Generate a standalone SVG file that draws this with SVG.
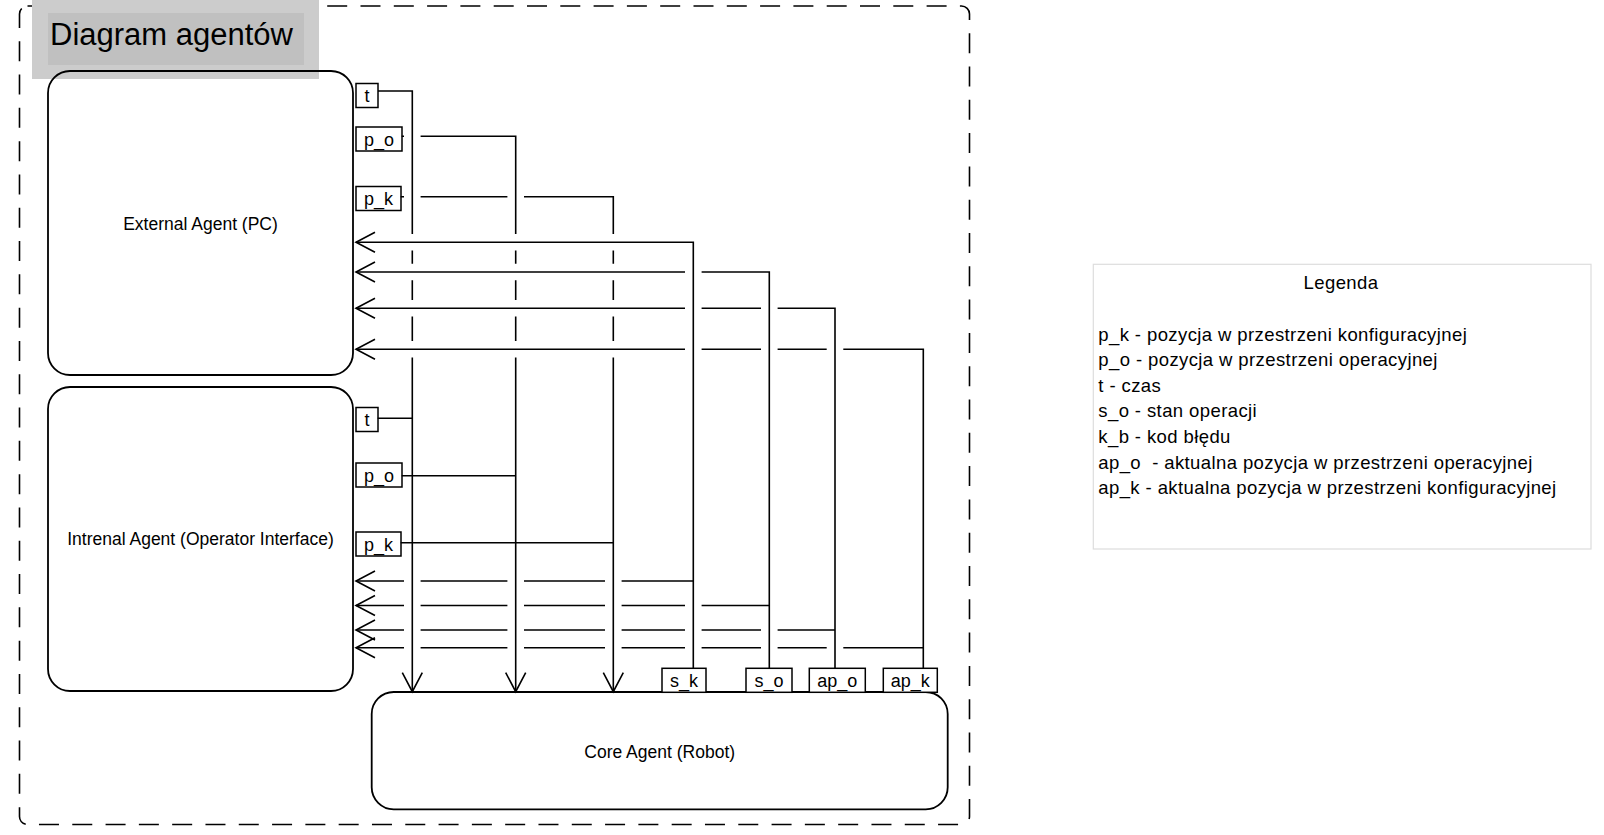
<svg xmlns="http://www.w3.org/2000/svg" width="1604" height="835" viewBox="0 0 1604 835">
<style>
text{font-family:"Liberation Sans",Arial,sans-serif;fill:#000}
.agent{fill:none;stroke:#000;stroke-width:1.8}
.port{fill:#fff;stroke:#000;stroke-width:1.5}
.pl{font-size:18px;text-anchor:middle}
.an{font-size:17.5px;text-anchor:middle}
.c{fill:none;stroke:#000;stroke-width:1.6}
.lg{font-size:18.5px;letter-spacing:0.4px}
</style>
<defs>
<marker id="arr" markerUnits="userSpaceOnUse" viewBox="-21 -11 22 22" markerWidth="22" markerHeight="22" refX="0" refY="0" orient="auto" overflow="visible">
<path d="M -19 -10 L 0 0 L -19 10" fill="none" stroke="#000" stroke-width="1.6"/>
</marker>
</defs>
<rect width="1604" height="835" fill="#fff"/>
<g id="frame">
<rect x="19.5" y="6" width="950" height="818.5" rx="8" fill="none" stroke="#000" stroke-width="1.6" stroke-dasharray="20 13.3"/>
</g>
<g id="title">
<rect x="32" y="0" width="287" height="79" fill="#cccccc"/>
<rect x="48" y="13" width="256" height="52" fill="#c0c0c0"/>
<text x="50" y="45" style="font-size:31px">Diagram agentów</text>
</g>
<g id="external-agent">
<rect class="agent" x="48" y="71" width="305" height="304" rx="22"/>
<text class="an" x="200.5" y="230">External Agent (PC)</text>
<rect class="port" x="356" y="83.5" width="22" height="24"/>
<text class="pl" x="367" y="102">t</text>
<rect class="port" x="356" y="127" width="46" height="24"/>
<text class="pl" x="379" y="145.5">p_o</text>
<rect class="port" x="356" y="186.5" width="45" height="24"/>
<text class="pl" x="378.5" y="205">p_k</text>
</g>
<g id="internal-agent">
<rect class="agent" x="48" y="387" width="305" height="304" rx="22"/>
<text class="an" x="200.5" y="545">Intrenal Agent (Operator Interface)</text>
<rect class="port" x="356" y="407.5" width="22" height="24"/>
<text class="pl" x="367" y="426">t</text>
<rect class="port" x="356" y="463" width="46" height="24"/>
<text class="pl" x="379" y="481.5">p_o</text>
<rect class="port" x="356" y="532" width="45" height="24"/>
<text class="pl" x="378.5" y="550.5">p_k</text>
</g>
<g id="core-agent">
<rect class="agent" x="371.7" y="692" width="576" height="117.3" rx="22"/>
<text class="an" x="659.7" y="758">Core Agent (Robot)</text>
<rect class="port" x="662" y="668.3" width="44" height="24"/>
<text class="pl" x="684" y="686.8">s_k</text>
<rect class="port" x="746" y="668.3" width="46" height="24"/>
<text class="pl" x="769" y="686.8">s_o</text>
<rect class="port" x="809.3" y="668.3" width="56" height="24"/>
<text class="pl" x="837.3" y="686.8">ap_o</text>
<rect class="port" x="883.3" y="668.3" width="54" height="24"/>
<text class="pl" x="910.3" y="686.8">ap_k</text>
</g>
<g id="connectors" class="c">
<path class="c" d="M 378 91 H 412.3 V 234 M 412.3 250.6 V 263.7 M 412.3 280.3 V 300 M 412.3 316.6 V 341 M 412.3 357.6 V 691.7" marker-end="url(#arr)"/>
<path class="c" d="M 401.7 136.3 H 404 M 420.6 136.3 H 515.7 V 234 M 515.7 250.6 V 263.7 M 515.7 280.3 V 300 M 515.7 316.6 V 341 M 515.7 357.6 V 691.7" marker-end="url(#arr)"/>
<path class="c" d="M 400.7 196.7 H 404 M 420.6 196.7 H 507.4 M 524 196.7 H 613.3 V 234 M 613.3 250.6 V 263.7 M 613.3 280.3 V 300 M 613.3 316.6 V 341 M 613.3 357.6 V 691.7" marker-end="url(#arr)"/>
<path class="c" d="M 377.7 418.3 H 412.3"/>
<path class="c" d="M 401.7 475.7 H 515.7"/>
<path class="c" d="M 400.7 542.7 H 613.3"/>
<path class="c" d="M 693.3 668.3 V 242.3 H 356" marker-end="url(#arr)"/>
<path class="c" d="M 769.3 668.3 V 272 H 701.6 M 685 272 H 356" marker-end="url(#arr)"/>
<path class="c" d="M 835 668.3 V 308.3 H 777.6 M 761 308.3 H 701.6 M 685 308.3 H 356" marker-end="url(#arr)"/>
<path class="c" d="M 923.3 668.3 V 349.3 H 843.3 M 826.7 349.3 H 777.6 M 761 349.3 H 701.6 M 685 349.3 H 356" marker-end="url(#arr)"/>
<path class="c" d="M 693.3 581 H 621.6 M 605 581 H 524 M 507.4 581 H 420.6 M 404 581 H 356" marker-end="url(#arr)"/>
<path class="c" d="M 769.3 605.5 H 701.6 M 685 605.5 H 621.6 M 605 605.5 H 524 M 507.4 605.5 H 420.6 M 404 605.5 H 356" marker-end="url(#arr)"/>
<path class="c" d="M 835 630 H 777.6 M 761 630 H 701.6 M 685 630 H 621.6 M 605 630 H 524 M 507.4 630 H 420.6 M 404 630 H 356" marker-end="url(#arr)"/>
<path class="c" d="M 923.3 647.7 H 843.3 M 826.7 647.7 H 777.6 M 761 647.7 H 701.6 M 685 647.7 H 621.6 M 605 647.7 H 524 M 507.4 647.7 H 420.6 M 404 647.7 H 356" marker-end="url(#arr)"/>
</g>
<g id="legend">
<rect x="1093.3" y="264.3" width="497.7" height="284.7" fill="#fff" stroke="#dddddd" stroke-width="1.2"/>
<text class="lg" x="1341" y="289" text-anchor="middle">Legenda</text>
<text class="lg" x="1098.3" y="340.5">p_k - pozycja w przestrzeni konfiguracyjnej</text>
<text class="lg" x="1098.3" y="366.1">p_o - pozycja w przestrzeni operacyjnej</text>
<text class="lg" x="1098.3" y="391.7">t - czas</text>
<text class="lg" x="1098.3" y="417.3">s_o - stan operacji</text>
<text class="lg" x="1098.3" y="442.9">k_b - kod błędu</text>
<text class="lg" x="1098.3" y="468.5" xml:space="preserve">ap_o  - aktualna pozycja w przestrzeni operacyjnej</text>
<text class="lg" x="1098.3" y="494.1">ap_k - aktualna pozycja w przestrzeni konfiguracyjnej</text>
</g>
</svg>
